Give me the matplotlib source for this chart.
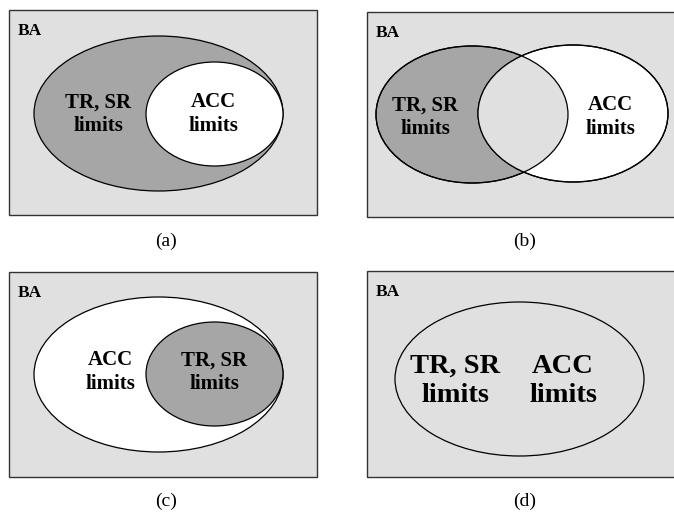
import matplotlib
matplotlib.use("Agg")
import matplotlib.pyplot as plt
from matplotlib.patches import Ellipse, Rectangle

# ---- content ----
captions = ["(a)", "(b)", "(c)", "(d)"]
box_label = "BA"
tr_label = "TR, SR\nlimits"
acc_label = "ACC\nlimits"

BG = "#e0e0e0"
SHADE = "#a6a6a6"
WHITE = "#ffffff"
SERIF = ["Liberation Serif", "DejaVu Serif"]

fig = plt.figure(figsize=(6.74, 5.12), dpi=100)
ax = fig.add_axes([0, 0, 1, 1])
ax.set_xlim(0, 674)
ax.set_ylim(512, 0)
ax.axis("off")

def box(x0, y0, x1, y1):
    ax.add_patch(Rectangle((x0, y0), x1 - x0, y1 - y0, facecolor=BG,
                           edgecolor="#333333", lw=1.0, zorder=1))
    ax.text(x0 + 9, y0 + 25, box_label, ha="left", va="baseline", fontsize=12.5,
            fontweight="bold", family=SERIF, zorder=10)

def ell(cx, cy, w, h, fc, z):
    ax.add_patch(Ellipse((cx, cy), w, h, facecolor=fc, edgecolor="black",
                         lw=0.9, zorder=z))

def label(x, y, s, size=15):
    ax.text(x, y, s, ha="center", va="center", fontsize=size,
            fontweight="bold", family=SERIF, linespacing=1.25, zorder=10)

def caption(x, y, s):
    ax.text(x, y, s, ha="center", va="center", fontsize=14,
            family=SERIF, zorder=10)

# (a)
box(9, 10, 317, 215)
ell(158.5, 113.5, 249, 155, SHADE, 2)
ell(214.5, 114, 137, 104, WHITE, 3)
label(98, 114, tr_label)
label(213, 114, acc_label)
caption(166, 241, captions[0])

# (b)
box(367, 12, 676, 217)
ell(472, 114.5, 192, 137, SHADE, 2)
ell(573, 113.5, 190, 137, WHITE, 2.5)
clip = Ellipse((472, 114.5), 192, 137, transform=ax.transData)
inter = Ellipse((573, 113.5), 190, 137, facecolor=BG, edgecolor="none", zorder=2.7)
ax.add_patch(inter)
inter.set_clip_path(clip)
ell(472, 114.5, 192, 137, "none", 3)
ell(573, 113.5, 190, 137, "none", 3)
label(425, 117, tr_label)
label(610, 117, acc_label)
caption(525, 241, captions[1])

# (c)
box(9, 272, 317, 477)
ell(158.5, 374.5, 249, 155, WHITE, 2)
ell(214.5, 374, 137, 104, SHADE, 3)
label(110, 372, acc_label)
label(214, 372, tr_label)
caption(166, 501, captions[2])

# (d)
box(367, 271, 676, 477)
ell(519.5, 379, 249, 154, BG, 2)
label(455, 381, tr_label, size=20.5)
label(563, 381, acc_label, size=20.5)
caption(525, 501, captions[3])

fig.savefig("out.png", dpi=100)
